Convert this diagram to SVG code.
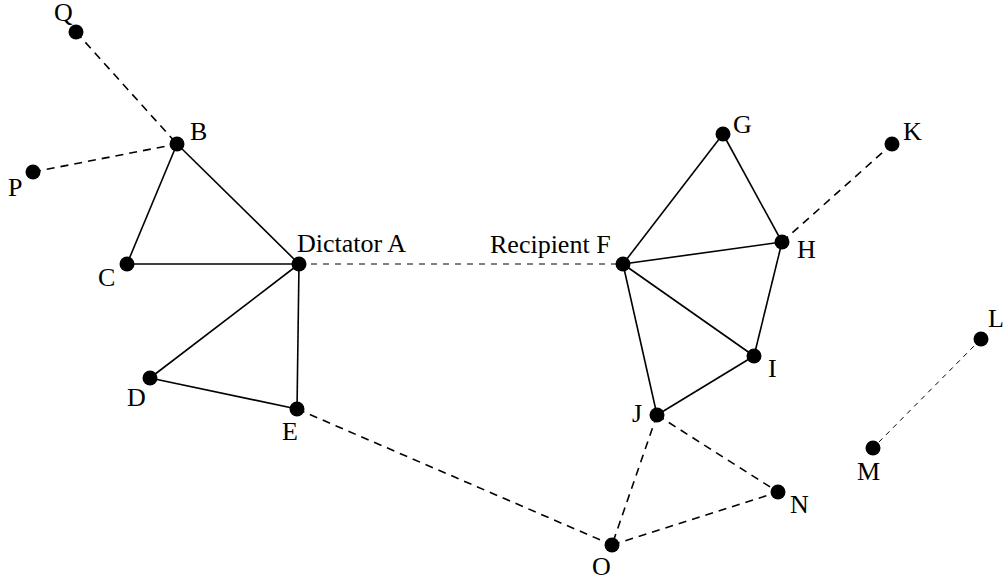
<svg xmlns="http://www.w3.org/2000/svg" width="1003" height="582" viewBox="0 0 1003 582">
<style>
.s{stroke:#000;stroke-width:1.6;fill:none}
.d{stroke:#000;stroke-width:1.6;fill:none;stroke-dasharray:8 6}
.t{stroke:#000;stroke-width:1;fill:none;stroke-dasharray:6 6}
.f{stroke:#000;stroke-width:1;fill:none;stroke-dasharray:5 5}
.n{fill:#000}
.l{font-family:Liberation Serif,DejaVu Serif,serif;font-size:26px;fill:#000}
</style>
<rect width="1003" height="582" fill="#fff"/>
<g id="connectors">
<line class="d" x1="76" y1="32" x2="177" y2="144"/>
<line class="d" x1="33" y1="172" x2="177" y2="144"/>
<line class="s" x1="177" y1="144" x2="127" y2="264"/>
<line class="s" x1="177" y1="144" x2="299" y2="264"/>
<line class="s" x1="127" y1="264" x2="299" y2="264"/>
<line class="s" x1="299" y1="264" x2="150" y2="378"/>
<line class="s" x1="299" y1="264" x2="297" y2="409"/>
<line class="s" x1="150" y1="378" x2="297" y2="409"/>
<line class="t" x1="299" y1="264" x2="623" y2="264"/>
<line class="d" x1="297" y1="409" x2="612" y2="545"/>
<line class="s" x1="623" y1="264" x2="723" y2="134"/>
<line class="s" x1="723" y1="134" x2="782" y2="242"/>
<line class="s" x1="623" y1="264" x2="782" y2="242"/>
<line class="s" x1="623" y1="264" x2="754" y2="356"/>
<line class="s" x1="623" y1="264" x2="657" y2="415"/>
<line class="s" x1="782" y1="242" x2="754" y2="356"/>
<line class="s" x1="754" y1="356" x2="657" y2="415"/>
<line class="d" x1="782" y1="242" x2="892" y2="144"/>
<line class="d" x1="657" y1="415" x2="778" y2="492"/>
<line class="d" x1="657" y1="415" x2="612" y2="545"/>
<line class="d" x1="612" y1="545" x2="778" y2="492"/>
<line class="f" x1="981" y1="339" x2="873" y2="448"/>
</g>
<g id="Q"><circle class="n" cx="76" cy="32" r="7.5"/><text class="l" x="54" y="21">Q</text></g>
<g id="B"><circle class="n" cx="177" cy="144" r="7.5"/><text class="l" x="190" y="140">B</text></g>
<g id="P"><circle class="n" cx="33" cy="172" r="7.5"/><text class="l" x="8" y="196">P</text></g>
<g id="C"><circle class="n" cx="127" cy="264" r="7.5"/><text class="l" x="98" y="286">C</text></g>
<g id="A"><circle class="n" cx="299" cy="264" r="7.5"/><text class="l" x="297" y="252">Dictator A</text></g>
<g id="D"><circle class="n" cx="150" cy="378" r="7.5"/><text class="l" x="127" y="406">D</text></g>
<g id="E"><circle class="n" cx="297" cy="409" r="7.5"/><text class="l" x="282" y="440">E</text></g>
<g id="F"><circle class="n" cx="623" cy="264" r="7.5"/><text class="l" x="490" y="253">Recipient F</text></g>
<g id="G"><circle class="n" cx="723" cy="134" r="7.5"/><text class="l" x="733" y="133">G</text></g>
<g id="K"><circle class="n" cx="892" cy="144" r="7.5"/><text class="l" x="903" y="140">K</text></g>
<g id="H"><circle class="n" cx="782" cy="242" r="7.5"/><text class="l" x="797" y="258">H</text></g>
<g id="I"><circle class="n" cx="754" cy="356" r="7.5"/><text class="l" x="768" y="377">I</text></g>
<g id="J"><circle class="n" cx="657" cy="415" r="7.5"/><text class="l" x="632" y="422">J</text></g>
<g id="N"><circle class="n" cx="778" cy="492" r="7.5"/><text class="l" x="790" y="513">N</text></g>
<g id="O"><circle class="n" cx="612" cy="545" r="7.5"/><text class="l" x="592" y="575">O</text></g>
<g id="L"><circle class="n" cx="981" cy="339" r="7.5"/><text class="l" x="988" y="327">L</text></g>
<g id="M"><circle class="n" cx="873" cy="448" r="7.5"/><text class="l" x="857" y="480">M</text></g>
</svg>
